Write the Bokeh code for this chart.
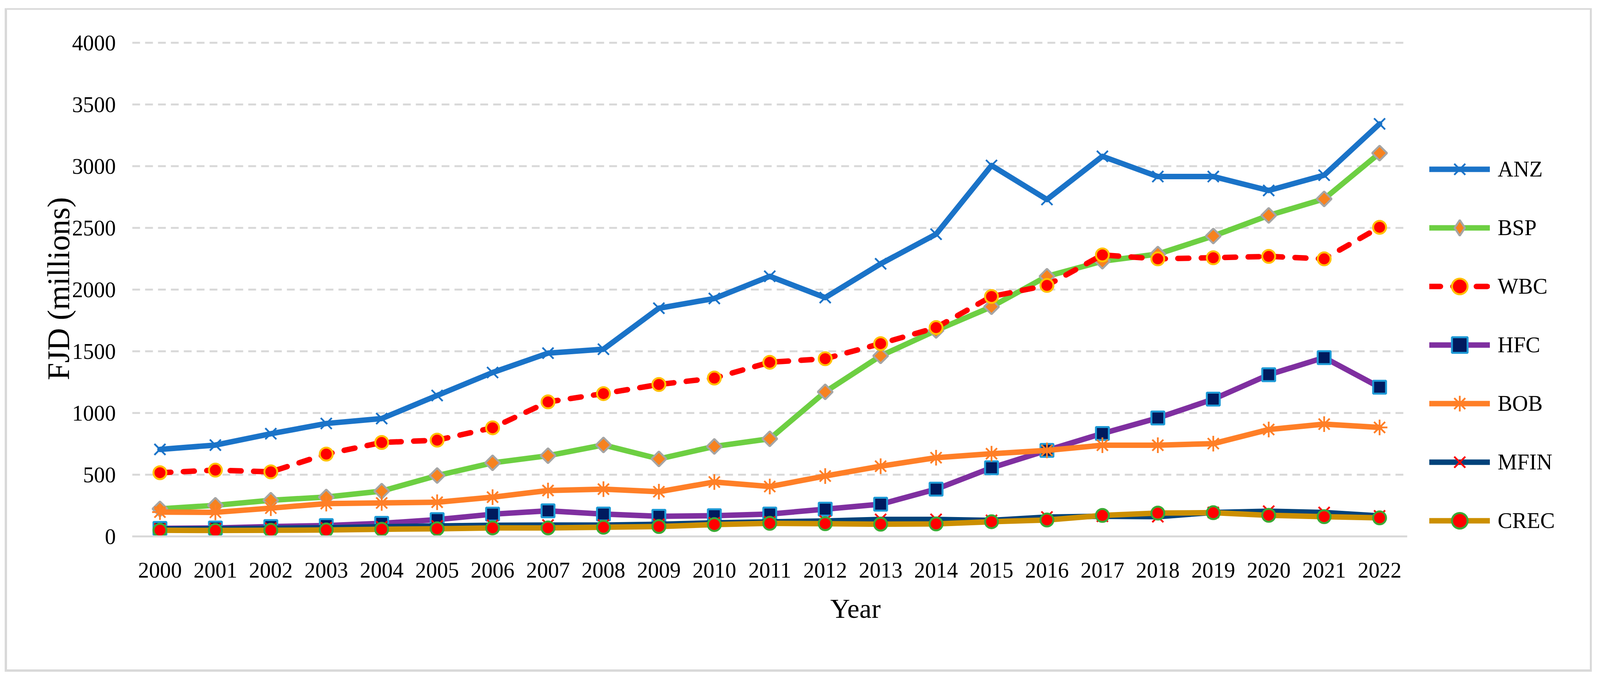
import numpy as np
from bokeh.plotting import figure
from bokeh.models import Range1d, FixedTicker, Legend, LegendItem, ColumnDataSource
from bokeh.embed import file_html
from bokeh.resources import INLINE

years = list(range(2000, 2023))
ANZ = [705, 740, 832, 915, 955, 1142, 1328, 1485, 1517, 1849, 1928, 2108, 1935, 2209, 2449, 3006, 2730, 3080, 2916, 2916, 2803, 2927, 3343]
BSP = [223, 252, 293, 319, 367, 493, 596, 654, 741, 628, 729, 791, 1171, 1463, 1669, 1861, 2108, 2230, 2288, 2434, 2601, 2735, 3106]
WBC = [516, 537, 523, 667, 761, 780, 880, 1090, 1157, 1231, 1283, 1411, 1440, 1562, 1692, 1944, 2034, 2281, 2249, 2258, 2269, 2249, 2505]
HFC = [65, 68, 80, 88, 106, 136, 180, 207, 181, 163, 168, 181, 221, 261, 383, 556, 697, 834, 960, 1112, 1310, 1449, 1209]
BOB = [197, 195, 229, 266, 271, 277, 318, 372, 383, 362, 441, 404, 489, 569, 638, 670, 697, 739, 739, 752, 866, 910, 883]
MFIN = [60, 62, 66, 70, 78, 85, 90, 92, 92, 98, 110, 118, 125, 138, 138, 130, 157, 163, 160, 194, 204, 194, 166]
CREC = [50, 48, 50, 52, 58, 62, 69, 69, 74, 80, 96, 106, 103, 99, 101, 119, 133, 170, 189, 192, 171, 160, 150]
y_ticks = [0, 500, 1000, 1500, 2000, 2500, 3000, 3500, 4000]

FONT = "Liberation Serif"
W, H = 4052, 1689
LEFT, TOP, BOTTOM = 320, 79, 351
YEAR_PX = 141.5                      # pixels per year slot
X0, X1 = 1999.5, 2022.5

use_center = "cross_bounds" in figure().ygrid[0].properties()
RIGHT = 40 if use_center else 477
x_end = X0 + (W - LEFT - RIGHT) / YEAR_PX if use_center else X1

p = figure(width=W, height=H, output_backend="svg", toolbar_location=None,
           x_range=Range1d(X0, x_end), y_range=Range1d(0, 4016),
           min_border_left=LEFT, min_border_right=RIGHT, min_border_top=TOP, min_border_bottom=BOTTOM)
p.outline_line_color = None
p.background_fill_color = "white"
p.border_fill_color = "white"
p.margin = (21, 0, 0, 12)
p.styles = {"border-style": "solid", "border-color": "#d9d9d9",
            "border-width": "4px 5px 6px 6px", "box-sizing": "content-box"}

p.xgrid.grid_line_color = None
p.ygrid.grid_line_color = "#d9d9d9"
p.ygrid.grid_line_width = 5
p.ygrid.grid_line_dash = "20 13"
p.ygrid.ticker = FixedTicker(ticks=y_ticks)
if use_center:
    p.ygrid.cross_bounds = (X0, X1)
    p.xaxis.bounds = (X0, X1)

p.yaxis.ticker = FixedTicker(ticks=y_ticks)
p.xaxis.ticker = FixedTicker(ticks=years)
for ax in (p.xaxis[0], p.yaxis[0]):
    ax.major_tick_line_color = None
    ax.minor_tick_line_color = None
    ax.major_label_text_font = FONT
    ax.major_label_text_font_size = "56px"
    ax.major_label_text_color = "black"
    ax.axis_label_text_font = FONT
    ax.axis_label_text_font_style = "normal"
    ax.axis_label_text_color = "black"
p.yaxis.axis_line_color = None
p.yaxis.major_label_standoff = 36
p.yaxis.axis_label = "FJD (millions)"
p.yaxis.axis_label_text_font_size = "80px"
p.yaxis.axis_label_standoff = -12
p.xaxis.axis_line_color = "#d9d9d9"
p.xaxis.axis_line_width = 5
p.xaxis.major_label_standoff = 61
p.xaxis.axis_label = "Year"
p.xaxis.axis_label_text_font_size = "70px"
p.xaxis.axis_label_standoff = 38

src = ColumnDataSource(dict(x=years, ANZ=ANZ, BSP=BSP, WBC=WBC, HFC=HFC, BOB=BOB, MFIN=MFIN, CREC=CREC))

LW = 14
styles = [
    ("ANZ", dict(line_color="#1a73c8"), dict(marker="x", size=40, line_color="#1a73c8", line_width=4.5)),
    ("BSP", dict(line_color="#6dcf42"), dict(marker="square", angle=np.pi / 4, size=27, fill_color="#f7821f", line_color="#a5a5a5", line_width=5)),
    ("WBC", dict(line_color="#ff0000", line_dash="28 32"), dict(marker="circle", size=33, fill_color="#ff0000", line_color="#ffc000", line_width=5)),
    ("HFC", dict(line_color="#7f2fa0"), dict(marker="square", size=33, fill_color="#001a5e", line_color="#1e9ad6", line_width=5)),
    ("BOB", dict(line_color="#ff7f27"), dict(marker="asterisk", size=40, line_color="#ff7f27", line_width=4.5)),
    ("MFIN", dict(line_color="#00427a"), dict(marker="x", size=40, line_color="#ff0000", line_width=4.5)),
    ("CREC", dict(line_color="#cc8f00"), dict(marker="circle", size=33, fill_color="#ff0000", line_color="#3aaa35", line_width=5)),
]

items = []
for name, lstyle, mstyle in styles:
    lr = p.line("x", name, source=src, line_width=LW, line_join="round", line_cap="round", **lstyle)
    sr = p.scatter("x", name, source=src, **mstyle)
    if name == "BSP":
        dummy = p.scatter(x=[np.nan], y=[np.nan], marker="diamond", size=40,
                          fill_color="#f7821f", line_color="#a5a5a5", line_width=5)
        items.append(LegendItem(label=name, renderers=[lr, dummy]))
    else:
        items.append(LegendItem(label=name, renderers=[lr, sr]))

legend_kw = dict(items=items, orientation="vertical",
                 glyph_width=155, glyph_height=100, label_height=100, spacing=50,
                 label_standoff=20, padding=0, margin=0,
                 label_text_font=FONT, label_text_font_size="56px", label_text_color="black",
                 border_line_color=None, background_fill_alpha=0)
if use_center:
    legend = Legend(location=(3321, -10), **legend_kw)
    p.add_layout(legend, "center")
else:
    legend = Legend(location=(66, -2), **legend_kw)
    p.add_layout(legend, "right")

open("out.html", "w").write(file_html(p, INLINE))
